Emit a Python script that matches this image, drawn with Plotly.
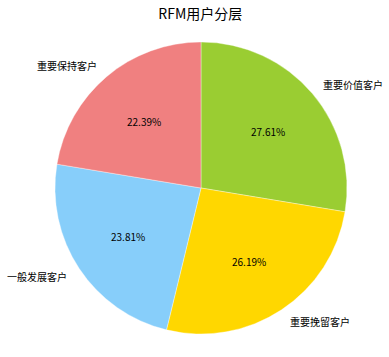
import math
import plotly.graph_objects as go

labels = ["重要保持客户", "一般发展客户", "重要挽留客户", "重要价值客户"]
values = [22.39, 23.81, 26.19, 27.61]
colors = ["#F08080", "#87CEFA", "#FFD700", "#9ACD32"]

W, H = 389, 357
cx, cy, r = 201, 188, 146
FONT = "Noto Sans CJK SC, DejaVu Sans, sans-serif"

# draw clockwise with reversed order so that the first slice runs counterclockwise from 12 o'clock
fig = go.Figure(go.Pie(
    labels=labels[::-1], values=values[::-1], sort=False, direction="clockwise", rotation=0,
    marker=dict(colors=colors[::-1], line=dict(width=0.6, color="rgba(255,255,255,0.6)")),
    textinfo="none", hoverinfo="skip", showlegend=False,
    domain=dict(x=[(cx - r) / W, (cx + r) / W], y=[(H - cy - r) / H, (H - cy + r) / H]),
))

total = sum(values)
ann = []
start = 0.0
for lab, v in zip(labels, values):
    frac = v / total
    mid = (start + frac / 2) * 2 * math.pi  # counterclockwise from top
    start += frac
    sx, sy = -math.sin(mid), math.cos(mid)
    px = cx + 0.6 * r * sx
    py = cy - 0.6 * r * sy
    ann.append(dict(x=px / W, y=1 - py / H, xref="paper", yref="paper", showarrow=False,
                    text=f"{frac*100:.2f}%", font=dict(family=FONT, size=10, color="black"),
                    xanchor="center", yanchor="middle", borderpad=0, borderwidth=0))
    lx = cx + 1.1 * r * sx
    ly = cy - 1.1 * r * sy
    ann.append(dict(x=lx / W, y=1 - ly / H, xref="paper", yref="paper", showarrow=False,
                    text=lab, font=dict(family=FONT, size=10, color="black"),
                    xanchor="left" if sx > 0 else "right", yanchor="middle",
                    borderpad=0, borderwidth=0))

fig.update_layout(
    width=W, height=H, margin=dict(l=0, r=0, t=0, b=0),
    paper_bgcolor="white", plot_bgcolor="white",
    title=dict(text="RFM用户分层", x=0.515, xanchor="center", y=1 - 14 / H, yanchor="middle",
               font=dict(family=FONT, size=14, color="black")),
    annotations=ann,
)

fig.write_html("out.html", config={"displayModeBar": False},
               post_script="document.body.style.margin='0';")
